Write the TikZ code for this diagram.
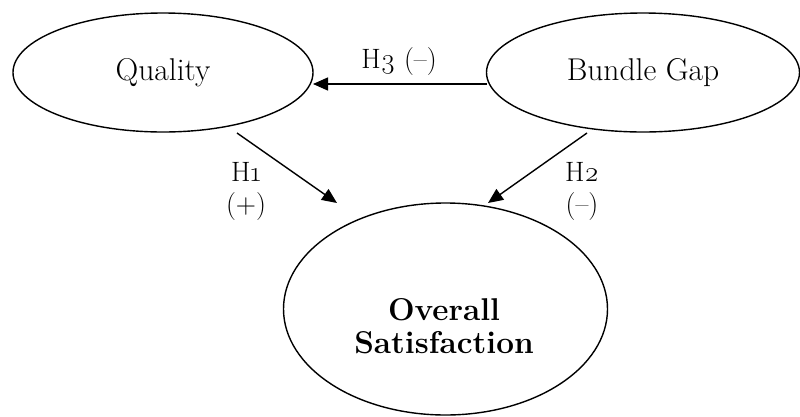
\documentclass[tikz,border=0pt]{standalone}
\usepackage{fontspec}
\setmainfont{Latin Modern Roman}
\usetikzlibrary{shapes.geometric,arrows.meta}
\begin{document}
\begin{tikzpicture}[x=1pt,y=-1pt,
  ell/.style={draw,ellipse,line width=1.4pt,inner sep=0pt},
  arr/.style={-{Triangle[length=15pt,width=13pt]},line width=1.4pt},
  lab/.style={font=\fontsize{28}{32}\selectfont,inner sep=0pt,align=center},
  ntext/.style={font=\fontsize{31.5}{36}\selectfont}]
\useasboundingbox (0,0) rectangle (800,416);
\clip (0,0) rectangle (800,416);
\node[ell,ntext,minimum width=300pt,minimum height=119pt] (q) at (163,72.5) {Quality};
\node[ell,ntext,minimum width=313pt,minimum height=119pt] (bg) at (643,72.5) {Bundle Gap};
\node[ell,minimum width=324pt,minimum height=212pt] (os) at (445.5,309) {};
\node[inner sep=0pt,align=center,font=\fontsize{31.5}{33}\selectfont\bfseries] (ost) at (444,326) {Overall\\Satisfaction};
\draw[arr] ([shift={(-156,11.5)}]bg.center) -- ([shift={(150,11.5)}]q.center);
\draw[arr] ([shift={(74,60.5)}]q.center) -- ([shift={(-108.5,-106)}]os.center);
\draw[arr] ([shift={(-56,60.5)}]bg.center) -- ([shift={(42.5,-106)}]os.center);
\node[lab] (h3) at (399,62) {H\oldstylenums{3} (–)};
\node[lab] (h1) at (246,191) {H\oldstylenums{1}\\(+)};
\node[lab] (h2) at (582,191) {H\oldstylenums{2}\\(–)};
\end{tikzpicture}
\end{document}
